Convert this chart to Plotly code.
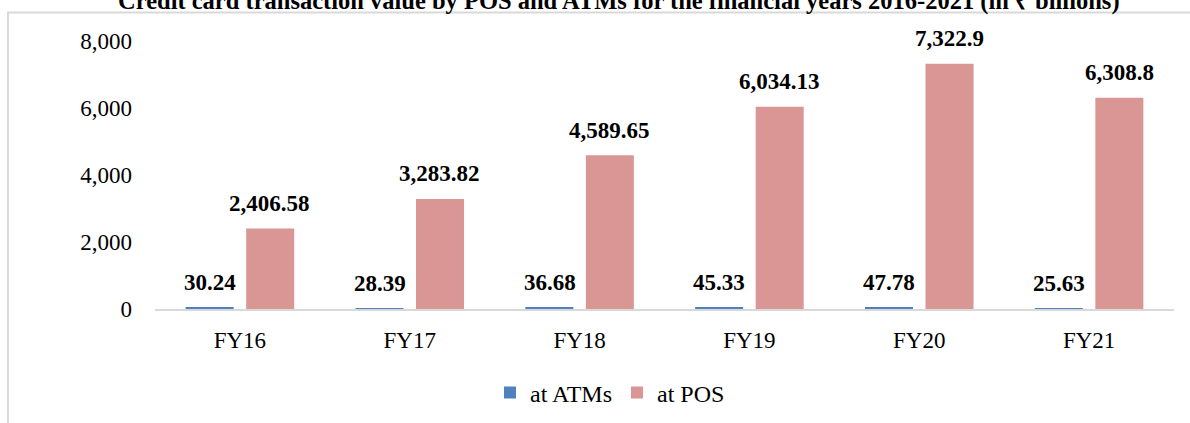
import plotly.graph_objects as go

categories = ["FY16", "FY17", "FY18", "FY19", "FY20", "FY21"]
atm_values = [30.24, 28.39, 36.68, 45.33, 47.78, 25.63]
pos_values = [2406.58, 3283.82, 4589.65, 6034.13, 7322.9, 6308.8]
atm_labels = ["30.24", "28.39", "36.68", "45.33", "47.78", "25.63"]
pos_labels = ["2,406.58", "3,283.82", "4,589.65", "6,034.13", "7,322.9", "6,308.8"]
y_ticks = [0, 2000, 4000, 6000, 8000]
title_text = "Credit card transaction value by POS and ATMs for the financial years 2016-2021 (in ₹ billions)"

FONT = "Liberation Serif"
ATM_COLOR = "#4F81BD"
POS_COLOR = "#D99694"

fig = go.Figure()
fig.add_trace(go.Bar(x=categories, y=atm_values, name="at ATMs",
                     marker=dict(color=ATM_COLOR, line=dict(width=0))))
fig.add_trace(go.Bar(x=categories, y=pos_values, name="at POS",
                     marker=dict(color=POS_COLOR, line=dict(width=0))))

annotations = []
for cat, v, lab in zip(categories, atm_values, atm_labels):
    annotations.append(dict(x=cat, y=v, text=lab, showarrow=False, xshift=-30, yshift=25,
                            yanchor="middle", font=dict(family=FONT, size=23, color="#000", weight="bold")))
for cat, v, lab in zip(categories, pos_values, pos_labels):
    annotations.append(dict(x=cat, y=v, text=lab, showarrow=False, xshift=30, yshift=25,
                            yanchor="middle", font=dict(family=FONT, size=23, color="#000", weight="bold")))

fig.update_layout(
    width=1190, height=423,
    margin=dict(l=155, r=16, t=41, b=114, autoexpand=False),
    paper_bgcolor="white", plot_bgcolor="white",
    barmode="group", bargap=0.287, bargroupgap=0.207,
    font=dict(family=FONT, size=23, color="#000"),
    title=dict(text=title_text, x=0.52, xanchor="center", y=1.0, yanchor="middle",
               xref="container", yref="container",
               font=dict(family=FONT, size=24.5, color="#000", weight="bold")),
    xaxis=dict(showline=True, linecolor="#D9D9D9", linewidth=2, showgrid=False,
               ticks="", ticklabelstandoff=9, tickfont=dict(family=FONT, size=23),
               automargin=False),
    yaxis=dict(range=[0, 8000], tickvals=y_ticks, tickformat=",", showgrid=False,
               showline=False, zeroline=False, ticks="", ticklabelstandoff=22,
               tickfont=dict(family=FONT, size=23), automargin=False),
    legend=dict(orientation="h", x=0.4465, xanchor="center", y=0.0709, yanchor="middle",
                yref="container",
                font=dict(family=FONT, size=24), itemwidth=30, traceorder="normal"),
    annotations=annotations,
    shapes=[dict(type="rect", xref="paper", yref="paper",
                 x0=-0.1443, x1=1.0255, y0=-0.489, y1=1.1063,
                 line=dict(color="#D9D9D9", width=2), layer="below")],
)

fig.write_html("out.html", config={"displayModeBar": False},
               post_script="document.body.style.margin='0';")
